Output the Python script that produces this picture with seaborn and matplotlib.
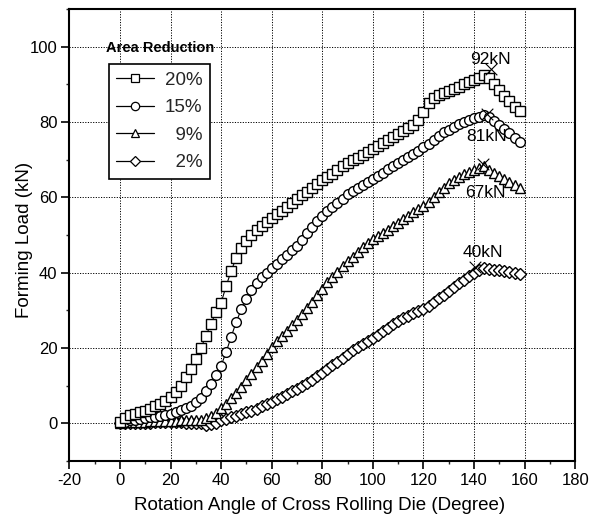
import numpy as np
import pandas as pd
import matplotlib
matplotlib.use('Agg')
import matplotlib.pyplot as plt
import seaborn as sns
from matplotlib.lines import Line2D
from matplotlib.ticker import MultipleLocator

# ---------------- data ----------------
angle = list(range(0, 160, 2))

load_20 = [0.5, 1.5, 2.2, 2.6, 3.0, 3.4, 3.9, 4.5, 5.2, 6.0,
           7.0, 8.3, 10.0, 12.2, 14.5, 17.0, 20.0, 23.2, 26.5, 29.5,
           32.0, 36.5, 40.5, 44.0, 46.5, 48.5, 50.0, 51.3, 52.5, 53.5,
           54.5, 55.5, 56.5, 57.5, 58.5, 59.5, 60.5, 61.5, 62.5, 63.6,
           64.6, 65.4, 66.3, 67.2, 68.2, 69.0, 69.8, 70.5, 71.3, 72.0,
           72.8, 73.6, 74.4, 75.2, 76.0, 76.8, 77.6, 78.4, 79.3, 80.6,
           82.6, 85.0, 86.4, 87.2, 87.8, 88.3, 88.8, 89.4, 90.0, 90.6,
           91.2, 91.8, 92.5, 91.8, 90.0, 88.6, 87.0, 85.6, 84.0, 82.8]

load_15 = [0.3, 0.5, 0.8, 1.0, 1.2, 1.4, 1.6, 1.8, 2.0, 2.2,
           2.5, 3.0, 3.5, 4.0, 4.7, 5.6, 6.8, 8.5, 10.5, 12.8,
           15.3, 19.0, 23.0, 27.0, 30.3, 33.0, 35.3, 37.2, 38.8, 40.0,
           41.2, 42.4, 43.6, 44.8, 46.0, 47.2, 48.8, 50.5, 52.2, 53.8,
           55.0, 56.3, 57.5, 58.6, 59.7, 60.8, 61.7, 62.5, 63.3, 64.1,
           64.8, 65.7, 66.6, 67.5, 68.4, 69.2, 70.0, 70.8, 71.6, 72.4,
           73.3, 74.3, 75.3, 76.3, 77.3, 78.0, 78.8, 79.5, 80.1, 80.6,
           81.0, 81.4, 81.9, 81.3, 80.2, 79.2, 78.2, 77.0, 75.8, 74.6]

load_9 = [0.2, 0.3, 0.4, 0.4, 0.5, 0.5, 0.6, 0.6, 0.6, 0.7,
          0.7, 0.7, 0.8, 0.8, 0.8, 0.8, 1.0, 1.4, 2.0, 2.8,
          4.0, 5.2, 6.8, 8.2, 9.8, 11.5, 13.2, 15.0, 16.7, 18.5,
          20.2, 21.8, 23.2, 24.6, 26.0, 27.5, 29.0, 30.6, 32.2, 34.0,
          35.8, 37.5, 38.9, 40.3, 41.7, 43.0, 44.3, 45.6, 46.8, 48.0,
          49.0, 49.8, 50.6, 51.4, 52.4, 53.3, 54.2, 55.1, 56.0, 56.8,
          57.7, 58.8, 60.0, 61.3, 62.6, 63.7, 64.6, 65.4, 66.1, 66.7,
          67.2, 67.7, 68.3, 67.4, 66.5, 65.6, 64.8, 64.0, 63.2, 62.4]

load_2 = [0.0, 0.1, 0.1, 0.2, 0.2, 0.2, 0.2, 0.3, 0.3, 0.3,
          0.3, 0.3, 0.3, 0.2, 0.2, 0.1, 0.0, -0.3, -0.2, 0.2,
          0.8, 1.2, 1.6, 2.1, 2.6, 3.0, 3.4, 3.9, 4.5, 5.1,
          5.7, 6.4, 7.1, 7.8, 8.5, 9.2, 10.0, 10.8, 11.6, 12.5,
          13.4, 14.4, 15.4, 16.4, 17.4, 18.4, 19.4, 20.3, 21.2, 22.0,
          22.8, 23.6, 24.5, 25.4, 26.3, 27.2, 28.0, 28.6, 29.2, 29.8,
          30.4, 31.2, 32.2, 33.2, 34.2, 35.2, 36.2, 37.2, 38.2, 39.2,
          40.0, 40.6, 41.2, 41.0, 40.8, 40.6, 40.4, 40.2, 39.9, 39.6]

series_labels = ['20%', '15%', '9%', '2%']
series_loads = [load_20, load_15, load_9, load_2]
series_markers = ['s', 'o', '^', 'D']

peak_labels = ['92kN', '81kN', '67kN', '40kN']
peak_x = [146.5, 145.0, 143.6, 140.5]
peak_y = [94.0, 82.0, 68.8, 41.4]
text_x = [146.4, 144.8, 144.4, 143.3]
text_y = [96.5, 76.1, 61.4, 45.3]

legend_title = 'Area Reduction'
x_label = 'Rotation Angle of Cross Rolling Die (Degree)'
y_label = 'Forming Load (kN)'

# ---------------- figure ----------------
sns.set_theme(style='ticks')
plt.rcParams['font.family'] = ['Liberation Sans', 'DejaVu Sans']
plt.rcParams['axes.unicode_minus'] = False

frames = []
for lab, vals in zip(series_labels, series_loads):
    frames.append(pd.DataFrame({'angle': angle, 'load': vals, 'series': lab}))
df = pd.concat(frames, ignore_index=True)

fig = plt.figure(figsize=(5.9, 5.3), dpi=100)
ax = fig.add_axes([0.1175, 0.130, 0.8575, 0.853])

MS = {'s': 7.0, 'o': 7.0, '^': 7.0, 'D': 6.2}
for lab, mk in zip(series_labels[::-1], series_markers[::-1]):
    sub = df[df['series'] == lab]
    sns.lineplot(data=sub, x='angle', y='load', ax=ax, color='black',
                 linewidth=0.8, marker=mk, markersize=MS[mk],
                 markerfacecolor='white', markeredgecolor='black',
                 markeredgewidth=1.0, legend=False, errorbar=None, sort=False)

# peak crosses and labels
ax.scatter(peak_x, peak_y, marker='x', s=70, color='black', linewidths=0.8, zorder=5)
for tx, ty, t in zip(text_x, text_y, peak_labels):
    ax.text(tx, ty, t, ha='center', va='center', fontsize=12.5, color='black', zorder=6)

ax.set_xlim(-20, 180)
ax.set_ylim(-10, 110)
ax.xaxis.set_major_locator(MultipleLocator(20))
ax.xaxis.set_minor_locator(MultipleLocator(10))
ax.yaxis.set_major_locator(MultipleLocator(20))
ax.yaxis.set_minor_locator(MultipleLocator(10))
ax.set_yticks([0, 20, 40, 60, 80, 100])

ax.grid(True, which='major', color='black', linestyle=(0, (1.2, 1.5)), linewidth=0.7)
ax.set_axisbelow(True)

ax.tick_params(axis='both', which='major', direction='out', length=5.5, width=1.2,
               labelsize=12, pad=3, colors='black')
ax.tick_params(axis='both', which='minor', direction='out', length=2.5, width=1.0)
for sp in ax.spines.values():
    sp.set_visible(True)
    sp.set_color('black')
    sp.set_linewidth(1.5)

ax.set_xlabel(x_label, fontsize=13.5, color='black')
ax.set_ylabel(y_label, fontsize=13.5, color='black')
ax.xaxis.set_label_coords(0.495, -0.08)
ax.yaxis.set_label_coords(-0.072, 0.489)

# legend
handles = [Line2D([], [], color='black', linewidth=0.9, marker=mk,
                  markersize=6 if mk != 'D' else 5.2, markerfacecolor='white',
                  markeredgecolor='black', markeredgewidth=0.9)
           for mk in series_markers]
labels_padded = [l if len(l) == 3 else '  ' + l for l in series_labels]
leg = ax.legend(handles, labels_padded, loc='upper left',
                bbox_to_anchor=(0.078, 0.878), borderaxespad=0,
                fontsize=13.5, frameon=True, fancybox=False, framealpha=1,
                edgecolor='black', handlelength=2.0, handletextpad=0.6,
                labelspacing=0.55, borderpad=0.4, numpoints=1)
leg.get_frame().set_linewidth(1.2)
ax.text(0.179, 0.914, legend_title, transform=ax.transAxes, ha='center',
        va='center', fontsize=10.5, fontweight='bold', color='black')

fig.savefig('out.png', dpi=100, facecolor='white')
